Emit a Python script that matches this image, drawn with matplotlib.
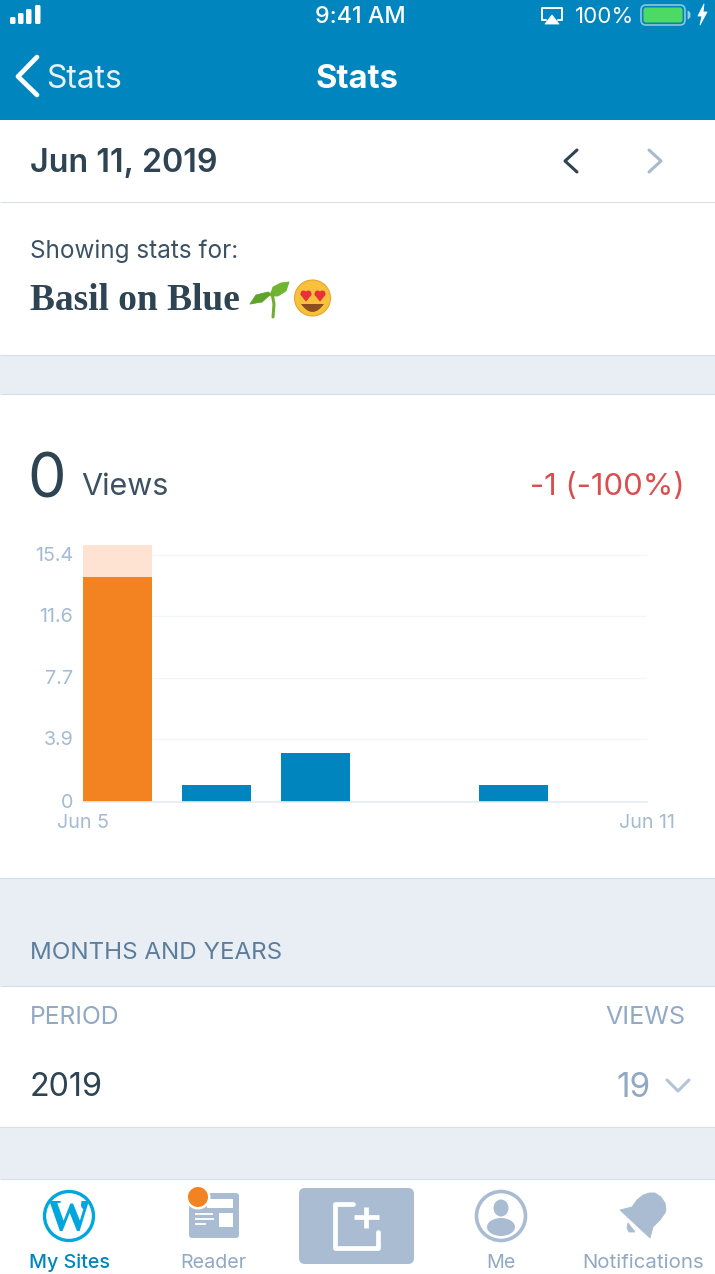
import matplotlib
matplotlib.use('Agg')
import matplotlib.pyplot as plt
from matplotlib.patches import Rectangle, Circle, Ellipse, FancyBboxPatch, Polygon, PathPatch
from matplotlib.path import Path
from matplotlib.transforms import ScaledTranslation

plt.rcParams['font.family'] = ['Inter', 'DejaVu Sans']

W, H = 715, 1274

# chart data
days = [0, 1, 2, 3, 4, 5]
views = [14, 1, 3, 0, 1, 0]
highlight = [16, 0, 0, 0, 0, 0]
y_ticks = [0, 3.9, 7.7, 11.6, 15.4]
y_labels = ['0', '3.9', '7.7', '11.6', '15.4']
x_labels = ['Jun 5', 'Jun 11']

BLUE = '#0085be'
ORANGE = '#f38320'
DARK = '#2e4453'
GREY = '#91a9c3'
TICK = '#a5bbd3'
BAND = '#e9eef5'
LINE = '#d5deea'
ICON = '#aabcd1'
RED = '#d94f4f'

fig = plt.figure(figsize=(W / 100, H / 100), dpi=100, facecolor='white')
ui = fig.add_axes([0, 0, 1, 1], zorder=0)
ui.set_xlim(0, W)
ui.set_ylim(H, 0)
ui.axis('off')


def band(y0, y1, color):
    ui.add_patch(Rectangle((0, y0), W, y1 - y0, fc=color, ec='none'))


def hline(y, color=LINE, lw=0.8):
    ui.plot([0, W], [y, y], color=color, lw=lw, solid_capstyle='butt')


def txt(x, y, s, size, color=DARK, ha='left', weight='normal', **kw):
    ui.text(x, y + 2, s, fontsize=size, color=color, ha=ha, va='center', weight=weight, **kw)


def poly(pts, color, **kw):
    ui.add_patch(Polygon(pts, closed=True, fc=color, ec=color, lw=0.6, joinstyle='round', **kw))


def stroke(pts, color, lw, cap='round'):
    xs, ys = zip(*pts)
    ui.plot(xs, ys, color=color, lw=lw, solid_capstyle=cap, solid_joinstyle='round')


# sections
band(0, 120, BLUE)
band(355, 394, BAND)
band(878, 986, BAND)
band(1127, 1179, BAND)
for y in [202, 355, 394, 878, 986, 1127, 1179]:
    hline(y)
hline(1273.5, '#e4e8ee')

# status bar
for i, (x, top) in enumerate(zip([10, 18, 26, 35], [16, 12, 8, 4])):
    ui.add_patch(FancyBboxPatch((x, top + 1), 5.5, 23 - top, boxstyle='round,pad=0,rounding_size=1.5', fc='white', ec='none'))
txt(360.5, 15, '9:41 AM', 16.8, 'white', ha='center', weight='medium')
stroke([(546, 20), (542, 20), (542, 7.5), (562, 7.5), (562, 20), (558, 20)], 'white', 1.4)
poly([(552, 15), (545, 24), (559, 24)], 'white')
txt(575, 15, '100%', 16, 'white')
ui.add_patch(FancyBboxPatch((641, 5), 44, 20, boxstyle='round,pad=0,rounding_size=5', fc='none', ec='#8fc4dd', lw=1.2))
ui.add_patch(FancyBboxPatch((643.5, 7.5), 39, 15, boxstyle='round,pad=0,rounding_size=2.5', fc='#4cd964', ec='none'))
poly([(688, 11), (690, 13), (690, 17), (688, 19)], '#9ccde3')
poly([(704, 4), (698, 16), (702, 16), (700, 25), (707, 12), (703, 12)], 'white')

# nav bar
stroke([(37, 57), (18, 76.5), (37, 95)], 'white', 3.4)
txt(46, 77, 'Stats', 23, '#e6f2f8')
txt(357.5, 77, 'Stats', 23.5, 'white', ha='center', weight='bold')

# date row
txt(30, 161, 'Jun 11, 2019', 23.2, DARK, weight='semibold')
stroke([(577, 150), (565, 161), (577, 172)], DARK, 2.2)
stroke([(649, 150), (661, 161), (649, 172)], '#a9bacd', 2.2)

# site row
txt(29.5, 249, 'Showing stats for:', 17.5, '#3d5162')
txt(30, 298, 'Basil on Blue', 27, DARK, weight='bold', family=['Liberation Serif'])
# sprout
stroke([(272, 293), (274, 304), (273, 317)], '#6fae2e', 2.2)
poly([(250, 304), (256, 295), (268, 292), (271, 294), (262, 302)], '#5fa32a')
poly([(270, 296), (273, 287), (281, 283), (289, 282), (286, 291), (278, 296)], '#6fb52f')
# face
ui.add_patch(Circle((312.5, 298), 18, fc='#f7c13c', ec='#e9a52d', lw=0.8))
for cx in [306, 320]:
    ui.add_patch(Circle((cx - 2.4, 293.5), 3, fc='#e8303a', ec='none'))
    ui.add_patch(Circle((cx + 2.4, 293.5), 3, fc='#e8303a', ec='none'))
    poly([(cx - 5.2, 294.5), (cx + 5.2, 294.5), (cx, 301)], '#e8303a')
ui.add_patch(PathPatch(Path([(301, 304), (312.5, 320), (324, 304), (301, 304)],
                            [Path.MOVETO, Path.CURVE3, Path.CURVE3, Path.CLOSEPOLY]),
                       fc='#8c4f1f', ec='none'))

# views header
txt(27, 480, '0', 44, DARK)
txt(81.5, 485, 'Views', 22, '#3d5162')
txt(685, 485, '-1 (-100%)', 22.4, RED, ha='right')

# section table
txt(30, 951, 'MONTHS AND YEARS', 17.4, '#5c7d9c')
txt(29.5, 1015, 'PERIOD', 17.8, GREY)
txt(685, 1015, 'VIEWS', 18, GREY, ha='right')
txt(30, 1086, '2019', 23.3, DARK)
txt(651, 1086, '19', 24, GREY, ha='right')
stroke([(667, 1080), (678, 1091), (689, 1080)], '#b4c4d6', 2.2)

# tab bar: my sites
WP = '#00a6dc'
ui.add_patch(Circle((69, 1216), 24.5, fc='none', ec=WP, lw=2.4))
ui.text(69, 1219, 'W', fontsize=32, color=WP, ha='center', va='center', weight='bold', family=['Liberation Serif'])
ui.add_patch(Ellipse((84, 1205), 6, 8, fc=WP, ec='none'))
txt(69.5, 1261, 'My Sites', 14.2, BLUE, ha='center', weight='medium')

# reader
ui.add_patch(FancyBboxPatch((189, 1193), 50, 45, boxstyle='round,pad=0,rounding_size=3', fc=ICON, ec='none'))
ui.add_patch(Rectangle((207, 1199), 26, 9, fc='white', ec='none'))
ui.add_patch(Rectangle((219, 1213), 14, 14, fc='white', ec='none'))
for y, x1 in [(1214, 213), (1219, 214), (1224, 206)]:
    ui.plot([195, x1], [y, y], color='white', lw=1.3, solid_capstyle='butt')
ui.add_patch(Circle((198, 1197), 12.5, fc='white', ec='none'))
ui.add_patch(Circle((198, 1197), 10, fc=ORANGE, ec='none'))
txt(213, 1261, 'Reader', 14.2, GREY, ha='center')

# new post
ui.add_patch(FancyBboxPatch((299, 1188), 115, 76, boxstyle='round,pad=0,rounding_size=6', fc=ICON, ec='none'))
stroke([(353, 1204), (335, 1204), (335, 1248), (378, 1248), (378, 1232)], 'white', 3.4)
stroke([(366, 1207), (366, 1228)], 'white', 3.4, cap='butt')
stroke([(354, 1217), (379, 1217)], 'white', 3.4, cap='butt')

# me
ui.add_patch(Circle((501, 1216), 24.5, fc='none', ec=ICON, lw=2.6))
ui.add_patch(Ellipse((501, 1208), 15, 17, fc=ICON, ec='none'))
ui.add_patch(Ellipse((501, 1227), 28, 18, fc=ICON, ec='none'))
txt(501, 1261, 'Me', 14.2, GREY, ha='center')

# notifications
poly([(620, 1210), (632, 1207), (637, 1200), (643, 1195), (649, 1193), (655, 1193), (661, 1197),
      (665, 1203), (666, 1209), (665, 1213), (660, 1220), (653, 1227), (650, 1238)], ICON)
poly([(628, 1223), (635, 1232), (629, 1232), (627, 1228)], ICON)
txt(643, 1261, 'Notifications', 14.7, GREY, ha='center')

# chart
x0, x1 = 83, 647
y_base, y_top = 801.5, 545.0
ax = fig.add_axes([x0 / W, 1 - y_base / H, (x1 - x0) / W, (y_base - y_top) / H], zorder=1)
ax.patch.set_alpha(0)
bar_w = 69 / 99
ax.set_xlim(-bar_w / 2, days[-1] + bar_w / 2)
ax.set_ylim(0, 16)
for s in ['top', 'right', 'left']:
    ax.spines[s].set_visible(False)
ax.spines['bottom'].set_color('#e6ecf5')
ax.spines['bottom'].set_linewidth(1.2)
ax.set_axisbelow(True)
ax.grid(axis='y', color='#f2f5f9', lw=1.0)
ax.grid(axis='x', visible=False)

ax.bar(days, highlight, width=bar_w, color='#fee3d2', linewidth=0)
ax.bar(days[:1], views[:1], width=bar_w, color=ORANGE, linewidth=0)
ax.bar(days[1:], views[1:], width=bar_w, color=BLUE, linewidth=0)

ax.set_yticks(y_ticks)
ax.set_yticklabels(y_labels, fontsize=14.2, color=TICK)
ax.set_xticks(list(ax.get_xlim()))
ax.set_xticklabels(x_labels, fontsize=14.2, color=TICK)
ax.tick_params(axis='both', length=0)
ax.tick_params(axis='y', pad=7)
ax.tick_params(axis='x', pad=9)
up = ScaledTranslation(0, 1.0 / 100, fig.dpi_scale_trans)
for t in ax.get_yticklabels():
    t.set_transform(t.get_transform() + up)

fig.savefig('out.png', dpi=100)
